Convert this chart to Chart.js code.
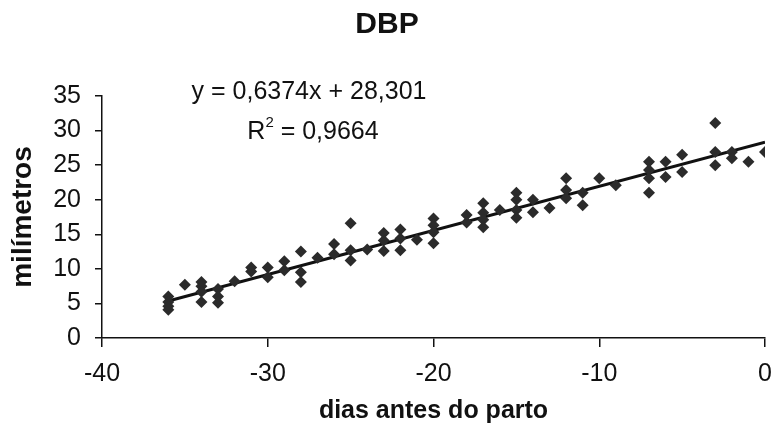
<!DOCTYPE html>
<html lang="pt">

<head>
    <meta charset="UTF-8">
    <title>DBP</title>
    <script src="https://cdn.jsdelivr.net/npm/chart.js"></script>
    <style>
        body {
            margin: 0;
            background: #fff;
        }

        .chart-box {
            width: 774px;
            height: 439px;
        }
    </style>
</head>

<body>
    <div class="chart-box">
        <canvas id="myChart"></canvas>
    </div>
    <script>
        // dias antes do parto (x) e diâmetro biparietal em mm (y)
        var dias = [-36, -36, -36, -36, -35, -34, -34, -34, -34, -33, -33, -33, -32, -31, -31,
            -30, -30, -29, -29, -28, -28, -28, -27, -26, -26, -25, -25, -25, -24,
            -23, -23, -23, -22, -22, -22, -21, -20, -20, -20, -20, -18, -18,
            -17, -17, -17, -17, -16, -15, -15, -15, -15, -14, -14, -13,
            -12, -12, -12, -11, -11, -10, -9, -7, -7, -7, -7, -6, -6, -5, -5,
            -3, -3, -3, -2, -2, -1, 0];
        var milimetros = [6.0, 5.2, 4.6, 4.1, 7.7, 8.1, 7.5, 6.7, 5.2, 7.1, 6.0, 5.1, 8.2, 10.2, 9.6,
            10.2, 8.8, 11.1, 9.8, 12.5, 9.5, 8.1, 11.6, 13.6, 12.1, 16.6, 12.7, 11.2, 12.8,
            15.2, 14.1, 12.6, 15.7, 14.4, 12.7, 14.2, 17.3, 16.3, 15.3, 13.7, 17.8, 16.7,
            19.5, 18.1, 17.1, 16.0, 18.5, 21.0, 20.0, 18.5, 17.4, 20.0, 18.2, 18.8,
            23.1, 21.4, 20.2, 21.0, 19.2, 23.1, 22.1, 25.5, 24.3, 23.1, 21.0, 25.5, 23.3, 26.5, 24.0,
            31.1, 26.9, 25.0, 26.9, 26.0, 25.5, 26.9];

        // linha de tendência (regressão do Excel)
        var slope = 0.6374;
        var intercept = 28.301;
        var trendRange = [-36, 0];

        var xTicks = [-40, -30, -20, -10, 0];
        var yTicks = [0, 5, 10, 15, 20, 25, 30, 35];

        var FONT = "'Liberation Sans', Arial, sans-serif";

        var points = dias.map(function (d, i) {
            return { x: d, y: milimetros[i] };
        });
        var trend = trendRange.map(function (d) {
            return { x: d, y: slope * d + intercept };
        });

        // texto da equação e R² como no Excel
        var equationLabel = {
            id: 'equationLabel',
            afterDraw: function (chart) {
                var ctx = chart.ctx;
                ctx.save();
                ctx.fillStyle = '#111';
                ctx.textBaseline = 'alphabetic';
                ctx.font = '25px ' + FONT;
                ctx.textAlign = 'center';
                ctx.fillText('y = 0,6374x + 28,301', 309, 99);

                // R² com expoente
                ctx.textAlign = 'left';
                var wR = ctx.measureText('R').width;
                var rest = ' = 0,9664';
                var wRest = ctx.measureText(rest).width;
                ctx.font = '15px ' + FONT;
                var w2 = ctx.measureText('2').width;
                var x0 = 313 - (wR + w2 + wRest) / 2;
                ctx.font = '25px ' + FONT;
                ctx.fillText('R', x0, 139);
                ctx.fillText(rest, x0 + wR + w2, 139);
                ctx.font = '15px ' + FONT;
                ctx.fillText('2', x0 + wR, 127);
                ctx.restore();
            }
        };

        var ctx = document.getElementById('myChart').getContext('2d');
        var myChart = new Chart(ctx, {
            type: 'scatter',
            data: {
                datasets: [
                    {
                        label: 'DBP',
                        data: points,
                        pointStyle: 'rectRot',
                        pointRadius: 6,
                        pointBackgroundColor: '#2b2b2b',
                        pointBorderColor: '#2b2b2b',
                        pointBorderWidth: 0,
                    },
                    {
                        type: 'line',
                        label: 'tendência',
                        data: trend,
                        borderColor: '#111',
                        borderWidth: 3,
                        pointRadius: 0,
                        fill: false,
                    },
                ],
            },
            options: {
                responsive: true,
                maintainAspectRatio: false,
                animation: false,
                devicePixelRatio: 1,
                layout: {
                    padding: { top: 0, right: 0, bottom: 0, left: 0 }
                },
                plugins: {
                    legend: { display: false },
                    tooltip: { enabled: false },
                    title: {
                        display: true,
                        text: 'DBP',
                        color: '#111',
                        font: { family: FONT, size: 30, weight: 'bold' },
                        padding: { top: 7, bottom: 53 },
                    },
                },
                scales: {
                    x: {
                        type: 'linear',
                        min: -40,
                        max: 0,
                        afterBuildTicks: function (s) {
                            s.ticks = xTicks.map(function (v) { return { value: v }; });
                        },
                        afterFit: function (s) {
                            s.height = 101;
                            s.paddingRight = 9;
                        },
                        ticks: {
                            color: '#111',
                            padding: 12,
                            maxRotation: 0,
                            font: { family: FONT, size: 25 },
                        },
                        grid: {
                            drawOnChartArea: false,
                            drawTicks: true,
                            tickLength: 9,
                            color: '#111',
                            lineWidth: 1.5,
                        },
                        border: { display: true, color: '#111', width: 1.5 },
                        title: {
                            display: true,
                            text: 'dias antes do parto',
                            color: '#111',
                            font: { family: FONT, size: 25, weight: 'bold' },
                            padding: 13,
                        },
                    },
                    y: {
                        type: 'linear',
                        min: 0,
                        max: 35,
                        afterBuildTicks: function (s) {
                            s.ticks = yTicks.map(function (v) { return { value: v }; });
                        },
                        afterFit: function (s) { s.width = 102; },
                        ticks: {
                            color: '#111',
                            padding: 14,
                            font: { family: FONT, size: 25 },
                        },
                        grid: {
                            drawOnChartArea: false,
                            drawTicks: true,
                            tickLength: 7,
                            color: '#111',
                            lineWidth: 1.5,
                        },
                        border: { display: true, color: '#111', width: 1.5 },
                        title: {
                            display: true,
                            text: 'milímetros',
                            color: '#111',
                            font: { family: FONT, size: 28, weight: 'bold' },
                            padding: 6,
                        },
                    },
                },
            },
            plugins: [equationLabel],
        });
    </script>
</body>

</html>
